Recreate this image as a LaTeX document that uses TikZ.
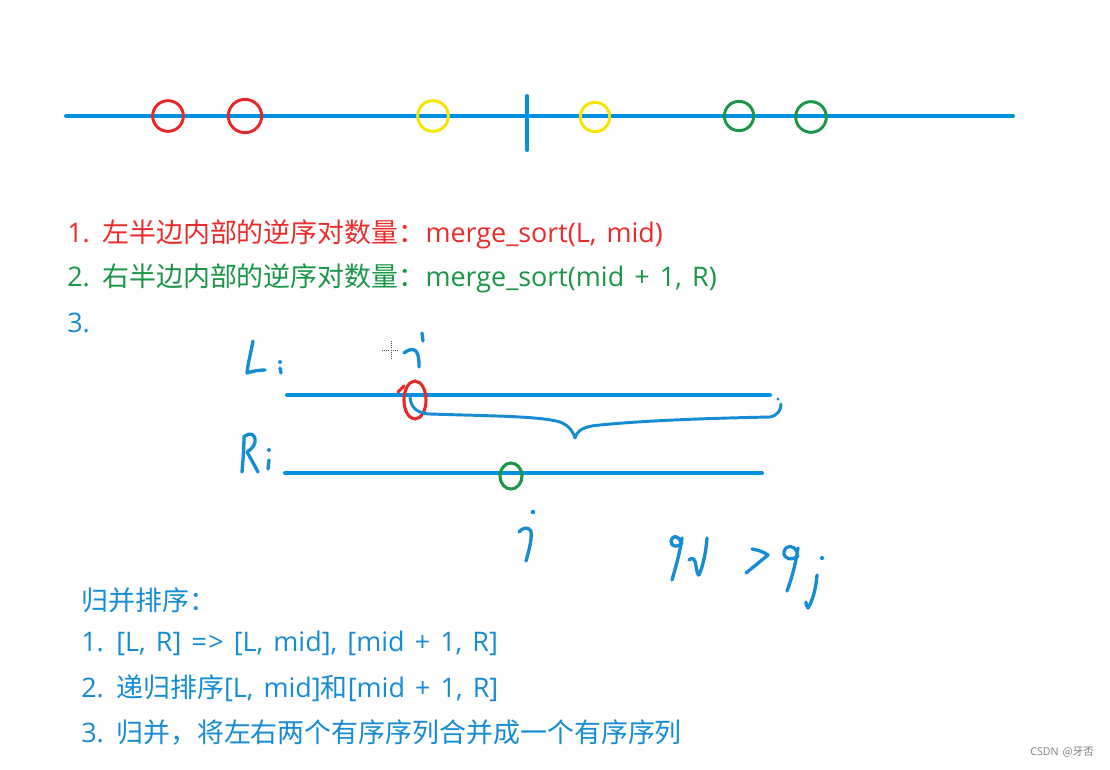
\documentclass[tikz,border=0pt]{standalone}
\usepackage{fontspec}
\setmainfont[WordSpace=1.45]{Open Sans}
\newfontfamily\cjk{Noto Sans CJK SC}
\definecolor{lineblue}{RGB}{0,146,222}
\definecolor{txtblue}{RGB}{22,140,212}
\definecolor{cred}{RGB}{232,40,40}
\definecolor{cyellow}{RGB}{248,228,0}
\definecolor{cgreen}{RGB}{28,150,72}
\definecolor{tgreen}{RGB}{26,150,72}
\definecolor{tred}{RGB}{236,44,44}
\tikzset{
  axisline/.style={lineblue, line width=3pt, line cap=round},
  ring/.style={circle, draw, line width=2.2pt, inner sep=0pt, minimum size=#1},
  hand/.style={txtblue, line width=2.5pt, line cap=round, line join=round},
  txt/.style={anchor=west, inner sep=0pt, font=\fontsize{20.2}{24}\selectfont},
}
\begin{document}
\begin{tikzpicture}[x=0.75pt, y=-0.75pt]
\useasboundingbox (0,0) rectangle (1110,769);
\fill[white] (0,0) rectangle (1110,769);
% top number line
\coordinate (a0) at (66,116);
\coordinate (a1) at (1013,116);
\coordinate (t0) at (527,96);
\coordinate (t1) at (527,150);
\draw[axisline] (a0) -- (a1);
\draw[axisline] (t0) -- (t1);
\node[ring=23pt, draw=cred] (r1) at (168,116) {};
\node[ring=25pt, draw=cred] (r2) at (245,116) {};
\node[ring=23pt, draw=cyellow] (y1) at (433,116) {};
\node[ring=22pt, draw=cyellow] (y2) at (595,117) {};
\node[ring=22pt, draw=cgreen] (g1) at (739,116) {};
\node[ring=23pt, draw=cgreen] (g2) at (811,117) {};
% text lines
\node[txt, text=tred] (l1) at (67,234) {1. {\cjk 左半边内部的逆序对数量：}merge\_sort(L, mid)};
\node[txt, text=tgreen] (l2) at (67,278) {2. {\cjk 右半边内部的逆序对数量：}merge\_sort(mid + 1, R)};
\node[txt, text=txtblue] (l3) at (67,323) {3.};
% L and R lines
\coordinate (L0) at (287,395);
\coordinate (L1) at (770,395);
\coordinate (R0) at (285,473);
\coordinate (R1) at (762,473);
\draw[axisline] (L0) -- (L1);
\draw[axisline] (R0) -- (R1);
% handwritten L:
\draw[hand] (253,341) .. controls (251,352) and (248,363) .. (247,373) .. controls (253,371) and (259,370) .. (265,370);
\fill[txtblue] (280,362) circle (1.5pt);
\draw[hand] (280,368) -- (281,373);
% handwritten R:
\draw[hand] (244,436) .. controls (244,448) and (243,460) .. (242,472);
\draw[hand] (245,436) .. controls (250,432) and (256,434) .. (255,442) .. controls (254,447) and (250,450) .. (247,452) .. controls (251,459) and (255,466) .. (258,472);
\fill[txtblue] (269,450) circle (1.5pt);
\draw[hand] (269,460) -- (268,469);
% handwritten i
\draw[hand] (422,333) -- (423,341);
\draw[hand] (404,353) .. controls (408,350) and (412,348) .. (416,351) .. controls (419,355) and (419,361) .. (419,367);
% cursor crosshair
\draw[black!70, densely dotted, line width=0.6pt] (382,350) -- (399,350) (391,341) -- (391,359);
% red ellipse around i position
\draw[cred, line width=2.3pt] (415,400) ellipse [x radius=11, y radius=19];
\draw[cred, line width=2.3pt, line cap=round] (398,392) -- (404,386);
% brace
\draw[hand, line width=2.2pt] (410,395) .. controls (410,405) and (414,413) .. (430,414)
  .. controls (490,416) and (540,416) .. (560,422) .. controls (570,426) and (573,432) .. (575,438)
  .. controls (577,430) and (585,426) .. (600,425) .. controls (650,420) and (720,418) .. (770,417)
  .. controls (778,415) and (781,410) .. (781,404);
\fill[txtblue] (778,399) circle (1.2pt);
% green circle on R
\draw[cgreen, line width=2.3pt] (511,476) ellipse [x radius=11, y radius=13];
% handwritten j
\fill[txtblue] (533,512) circle (1.7pt);
\draw[hand] (519,532) .. controls (522,528) and (528,526) .. (531,531) .. controls (532,540) and (529,550) .. (526,561);
% qi > qj
\draw[hand] (681,542) .. controls (678,535) and (672,535) .. (671,541) .. controls (671,547) and (678,548) .. (682,543);
\draw[hand] (682,538) .. controls (680,552) and (676,566) .. (672,580);
\draw[hand] (689,560) .. controls (692,557) and (695,558) .. (696,566) .. controls (697,572) and (698,576) .. (699,575) .. controls (703,566) and (706,552) .. (707,538);
\draw[hand] (752,549) .. controls (758,550) and (764,552) .. (768,555) -- (746,573);
\draw[hand] (797,552) .. controls (794,545) and (786,544) .. (784,552) .. controls (783,559) and (792,561) .. (798,556);
\draw[hand] (798,548) .. controls (796,562) and (792,578) .. (787,591);
\fill[txtblue] (822,558) circle (1.6pt);
\draw[hand] (817,575) .. controls (816,588) and (813,600) .. (808,608) .. controls (806,606) and (806,604) .. (806,602);
% bottom text
\node[txt, text=txtblue] (b0) at (81,600) {\cjk 归并排序：};
\node[txt, text=txtblue] (b1) at (81,643) {1. [L, R] =\kern1pt> [L, mid], [mid + 1, R]};
\node[txt, text=txtblue] (b2) at (81,688) {2. {\cjk 递归排序}[L, mid]{\cjk 和}[mid + 1, R]};
\node[txt, text=txtblue] (b3) at (81,733) {3. {\cjk 归并，将左右两个有序序列合并成一个有序序列}};
% watermark
\node[anchor=west, inner sep=0pt, text=gray, font=\fontsize{8}{9}\selectfont] (wm) at (1030,752) {CSDN {\cjk @牙否}};
\end{tikzpicture}
\end{document}
